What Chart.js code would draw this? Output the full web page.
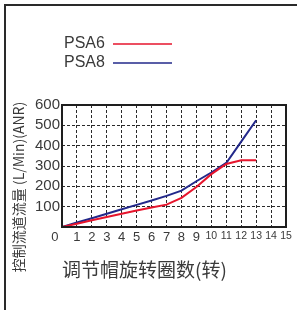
<!DOCTYPE html>
<html>
<head>
<meta charset="utf-8">
<script src="https://cdn.jsdelivr.net/npm/chart.js@4"></script>
<style>
  html, body { margin: 0; padding: 0; background: #fff; }
  #wrap { position: relative; width: 297px; height: 310px; overflow: hidden; }
  #c { position: absolute; left: 0; top: 0; }
  #frame { position: absolute; left: 4px; top: 4px; width: 300px; height: 320px;
           border-left: 2px solid #2a2a2a; border-top: 2px solid #2a2a2a; pointer-events: none; }
</style>
</head>
<body>
<div id="wrap">
  <canvas id="c" width="297" height="310"></canvas>
  <div id="frame"></div>
</div>
<script>
// ---- data ----
const turns = [0, 1, 2, 3, 4, 5, 6, 7, 8, 9, 10, 11, 12, 13];
const psa6 = [0, 16, 33, 49, 65, 81, 96, 110, 143, 197, 260, 310, 328, 328];
const psa8 = [0, 22, 43, 65, 87, 109, 130, 153, 179, 225, 268, 315, 420, 525];
const seriesNames = ['PSA6', 'PSA8'];
const xTickLabels = ['0','1','2','3','4','5','6','7','8','9','10','11','12','13','14','15'];
const yTickValues = [0, 100, 200, 300, 400, 500, 600];
const xTitle = '调节帽旋转圈数(转)';
const yTitle = '控制流道流量 (L/Min)(ANR)';

const RED = '#e6142c';
const BLUE = '#22288a';
const TEXT = '#3a3a3a';

const framePlugin = {
  id: 'framePlugin',
  afterDraw(chart) {
    const ctx = chart.ctx;
    const a = chart.chartArea;
    ctx.save();
    ctx.strokeStyle = '#1e1e1e';
    ctx.lineWidth = 2;
    ctx.setLineDash([]);
    ctx.strokeRect(a.left, a.top, a.right - a.left, a.bottom - a.top);
    ctx.font = '16px "Liberation Sans", Arial, sans-serif';
    ctx.textBaseline = 'middle';
    ctx.textAlign = 'left';
    chart.data.datasets.forEach((ds, i) => {
      const y = 44 + i * 19;
      ctx.fillStyle = TEXT;
      ctx.fillText(ds.label, 64, y);
      ctx.strokeStyle = ds.borderColor;
      ctx.lineWidth = 1.6;
      ctx.beginPath();
      ctx.moveTo(113, y);
      ctx.lineTo(172, y);
      ctx.stroke();
    });
    ctx.translate(19, 187);
    ctx.rotate(-Math.PI / 2);
    ctx.textAlign = 'center';
    ctx.fillStyle = TEXT;
    ctx.font = '14px "Noto Sans CJK SC", sans-serif';
    ctx.fillText(yTitle, 0, 0);
    ctx.restore();
  }
};

new Chart(document.getElementById('c'), {
  type: 'line',
  data: {
    datasets: [
      { label: seriesNames[0], data: turns.map((t, i) => ({ x: t, y: psa6[i] })),
        borderColor: RED, borderWidth: 2, pointRadius: 0, tension: 0, fill: false },
      { label: seriesNames[1], data: turns.map((t, i) => ({ x: t, y: psa8[i] })),
        borderColor: BLUE, borderWidth: 2, pointRadius: 0, tension: 0, fill: false }
    ]
  },
  options: {
    responsive: false,
    animation: false,
    events: [],
    layout: { padding: { left: 5, right: 11, top: 105, bottom: 0 } },
    plugins: { legend: { display: false }, title: { display: false }, tooltip: { enabled: false } },
    scales: {
      x: {
        type: 'linear', min: 0, max: 15,
        afterFit(s) { s.height = 83; },
        afterBuildTicks(s) { s.ticks = xTickLabels.map((_, i) => ({ value: i })); },
        ticks: {
          stepSize: 1, autoSkip: false, maxRotation: 0, minRotation: 0, padding: 3, color: TEXT,
          font: (c) => ({
            family: '"Liberation Sans", Arial, sans-serif',
            size: (c.tick && c.tick.value >= 10) ? 10.5 : 13
          }),
          callback: (v, i) => i === 0 ? xTickLabels[0] + '    ' : xTickLabels[i]
        },
        grid: { color: '#2a2a2a', lineWidth: 1, drawTicks: false },
        border: { display: false, dash: [3, 2] },
        title: {
          display: true, text: xTitle, align: 'start', color: TEXT,
          font: { family: '"Noto Sans CJK SC", sans-serif', size: 19, lineHeight: 1.2 },
          padding: { top: 0, bottom: 28.6 }
        }
      },
      y: {
        type: 'linear', min: 0, max: 600,
        afterFit(s) { s.width = 57; },
        afterBuildTicks(s) { s.ticks = yTickValues.map(v => ({ value: v })); },
        ticks: {
          autoSkip: false, padding: 2, color: TEXT,
          font: { family: '"Liberation Sans", Arial, sans-serif', size: 15 },
          callback: (v) => v === 0 ? '' : String(v)
        },
        grid: { color: '#2a2a2a', lineWidth: 1, drawTicks: false },
        border: { display: false, dash: [3, 2] }
      }
    }
  },
  plugins: [framePlugin]
});
</script>
</body>
</html>
